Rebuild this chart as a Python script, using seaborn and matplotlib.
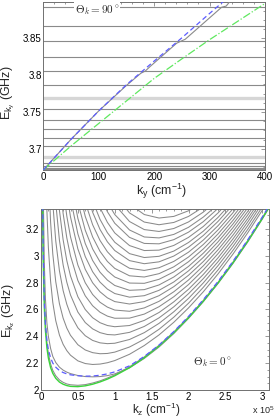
import numpy as np
import pandas as pd
import matplotlib
matplotlib.use("Agg")
import matplotlib.pyplot as plt
import seaborn as sns
from matplotlib.ticker import MultipleLocator, FuncFormatter

nan = float("nan")

# ---------------- top panel (Theta_k = 90 deg) ----------------
KY_FLAT_LEVELS = [3.892, 3.8672, 3.8459, 3.8242, 3.8053, 3.7863, 3.7537, 3.7393,
                  3.7266, 3.7153, 3.7045, 3.6805, 3.6773, 3.6737, 3.6722]
KY_FLAT_LEVELS_LIGHT = [3.7691, 3.6886]

KY_BLUE = [0, 50, 100, 150, 200, 250, 300, 350]
E_KY_BLUE = [3.6715, 3.713, 3.7515, 3.787, 3.819, 3.8505, 3.8835, 3.916]

KY_GREEN = [0, 50, 100, 150, 200, 250, 300, 350, 400]
E_KY_GREEN = [3.6715, 3.704, 3.7345, 3.765, 3.7955, 3.822, 3.848, 3.8725, 3.897]

KY_GRAY = [0, 50, 100, 150, 176, 184, 192.5, 240.6, 249.6, 256, 321.9, 330, 337]
E_KY_GRAY = [3.6715, 3.713, 3.7515, 3.786, 3.8025, 3.8055, 3.8115, 3.8432, 3.8464,
             3.8485, 3.892, 3.8935, 3.9]

# ---------------- bottom panel (Theta_k = 0 deg) ----------------
KZ = [0.01, 0.02, 0.03, 0.045, 0.06, 0.08, 0.1, 0.13, 0.16, 0.2, 0.25, 0.3, 0.35,
      0.4, 0.5, 0.6, 0.7, 0.8, 0.9, 1.0, 1.2, 1.4, 1.6, 1.8, 2.0, 2.2, 2.4, 2.6,
      2.8, 3.0, 3.1]   # in units of 1e5 cm^-1

E_KZ_GREEN = [nan, 3.476, 2.959, 2.615, 2.443, 2.315, 2.238, 2.167, 2.124, 2.087,
              2.059, 2.043, 2.033, 2.027, 2.025, 2.031, 2.043, 2.060, 2.081, 2.106,
              2.166, 2.240, 2.327, 2.426, 2.538, 2.661, 2.797, 2.945, 3.105, 3.277,
              3.368]

E_KZ_BLUE = [nan, 3.55, 3.05, 2.66, 2.49, 2.37, 2.30, 2.24, 2.20, 2.17, 2.145, 2.13,
             2.12, 2.113, 2.106, 2.103, 2.104, 2.11, 2.12, 2.135, 2.18, 2.25, 2.335,
             2.435, 2.548, 2.672, 2.808, 2.956, 3.116, 3.288, 3.38]

E_KZ_GRAY = [
    [nan, 3.63, 3.063, 2.686, 2.497, 2.356, 2.272, 2.194, 2.146, 2.106, 2.075, 2.057,
     2.045, 2.039, 2.035, 2.040, 2.052, 2.068, 2.089, 2.113, 2.173, 2.246, 2.333,
     2.432, 2.543, 2.667, 2.802, 2.950, 3.110, 3.282, 3.373],
    [nan, nan, 3.5, 2.95, 2.68, 2.50, 2.40, 2.31, 2.25, 2.205, 2.17, 2.148, 2.133,
     2.122, 2.108, 2.10, 2.098, 2.10, 2.107, 2.12, 2.165, 2.235, 2.32, 2.42, 2.533,
     2.657, 2.793, 2.94, 3.10, 3.272, 3.364],
    [nan, nan, nan, nan, 3.794, 3.336, 3.062, 2.809, 2.651, 2.516, 2.409, 2.340,
     2.293, 2.259, 2.217, 2.197, 2.190, 2.193, 2.203, 2.219, 2.266, 2.331, 2.410,
     2.504, 2.611, 2.731, 2.864, 3.010, 3.168, 3.338, 3.427],
    [nan, nan, nan, nan, nan, nan, 3.634, 3.251, 3.012, 2.806, 2.642, 2.535, 2.461,
     2.407, 2.337, 2.298, 2.278, 2.270, 2.272, 2.282, 2.320, 2.378, 2.452, 2.542,
     2.646, 2.764, 2.894, 3.038, 3.194, 3.363, nan],
    [nan, nan, nan, nan, nan, nan, nan, nan, 3.390, 3.110, 2.887, 2.740, 2.638,
     2.562, 2.463, 2.404, 2.369, 2.351, 2.345, 2.348, 2.376, 2.427, 2.496, 2.582,
     2.682, 2.797, 2.926, 3.067, 3.222, 3.390, nan],
    [nan, nan, nan, nan, nan, nan, nan, nan, nan, 3.392, 3.114, 2.931, 2.802,
     2.707, 2.580, 2.502, 2.455, 2.427, 2.413, 2.410, 2.429, 2.473, 2.537, 2.619,
     2.717, 2.829, 2.955, 3.095, 3.249, 3.415, nan],
    [nan, nan, nan, nan, nan, nan, nan, nan, nan, 3.669, 3.337, 3.118, 2.963,
     2.849, 2.694, 2.599, 2.538, 2.501, 2.480, 2.471, 2.480, 2.518, 2.577, 2.656,
     2.750, 2.860, 2.984, 3.123, 3.274, 3.439, nan],
    [nan, nan, nan, nan, nan, nan, nan, nan, nan, nan, 3.572, 3.314, 3.132,
     2.998, 2.815, 2.701, 2.627, 2.579, 2.550, 2.534, 2.535, 2.565, 2.620, 2.694,
     2.785, 2.893, 3.015, 3.151, 3.301, 3.465, nan],
    [nan, nan, nan, nan, nan, nan, nan, nan, nan, nan, nan, 3.502, 3.294,
     3.140, 2.930, 2.798, 2.711, 2.653, 2.617, 2.595, 2.586, 2.611, 2.660, 2.731,
     2.819, 2.924, 3.044, 3.179, 3.327, 3.490, nan],
    [nan, nan, nan, nan, nan, nan, nan, nan, nan, nan, nan, nan, 3.462,
     3.288, 3.050, 2.898, 2.798, 2.731, 2.686, 2.658, 2.640, 2.658, 2.702, 2.769,
     2.854, 2.956, 3.074, 3.207, 3.354, nan, nan],
    [nan, nan, nan, nan, nan, nan, nan, nan, nan, nan, nan, nan, nan,
     3.426, 3.162, 2.993, 2.880, 2.803, 2.751, 2.718, 2.691, 2.702, 2.742, 2.804,
     2.887, 2.987, 3.103, 3.234, 3.379, nan, nan],
    [nan, nan, nan, nan, nan, nan, nan, nan, nan, nan, nan, nan, nan,
     3.568, 3.277, 3.090, 2.964, 2.877, 2.818, 2.778, 2.742, 2.747, 2.782, 2.841,
     2.920, 3.018, 3.132, 3.261, 3.405, nan, nan],
    [nan, nan, nan, nan, nan, nan, nan, nan, nan, nan, nan, nan, nan,
     nan, 3.395, 3.189, 3.050, 2.954, 2.887, 2.841, 2.796, 2.794, 2.824, 2.879,
     2.955, 3.050, 3.162, 3.289, 3.432, nan, nan],
    [nan, nan, nan, nan, nan, nan, nan, nan, nan, nan, nan, nan, nan,
     nan, 3.517, 3.292, 3.139, 3.032, 2.957, 2.905, 2.850, 2.841, 2.866, 2.917,
     2.990, 3.083, 3.192, 3.318, 3.459, nan, nan],
    [nan, nan, nan, nan, nan, nan, nan, nan, nan, nan, nan, nan, nan,
     nan, nan, 3.397, 3.230, 3.113, 3.029, 2.971, 2.906, 2.890, 2.910, 2.957,
     3.026, 3.116, 3.223, 3.347, 3.487, nan, nan],
    [nan, nan, nan, nan, nan, nan, nan, nan, nan, nan, nan, nan, nan,
     nan, nan, 3.505, 3.323, 3.195, 3.103, 3.038, 2.963, 2.940, 2.954, 2.997,
     3.063, 3.150, 3.255, 3.377, nan, nan, nan],
    [nan, nan, nan, nan, nan, nan, nan, nan, nan, nan, nan, nan, nan,
     nan, nan, nan, 3.408, 3.270, 3.171, 3.100, 3.015, 2.986, 2.995, 3.034,
     3.098, 3.182, 3.285, 3.405, nan, nan, nan],
    [nan, nan, nan, nan, nan, nan, nan, nan, nan, nan, nan, nan, nan,
     nan, nan, nan, nan, 3.356, 3.248, 3.169, 3.075, 3.038, 3.041, 3.076,
     3.136, 3.217, 3.318, 3.436, nan, nan, nan],
    [nan, nan, nan, nan, nan, nan, nan, nan, nan, nan, nan, nan, nan,
     nan, nan, nan, nan, 3.444, 3.327, 3.241, 3.136, 3.091, 3.088, 3.119,
     3.175, 3.253, 3.352, nan, nan, nan, nan],
    [nan, nan, nan, nan, nan, nan, nan, nan, nan, nan, nan, nan, nan,
     nan, nan, nan, nan, nan, 3.398, 3.306, 3.191, 3.139, 3.132, 3.158,
     3.211, 3.287, 3.382, nan, nan, nan, nan],
    [nan, nan, nan, nan, nan, nan, nan, nan, nan, nan, nan, nan, nan,
     nan, nan, nan, nan, nan, nan, 3.380, 3.254, 3.194, 3.180, 3.202,
     3.251, 3.324, 3.417, nan, nan, nan, nan],
    [nan, nan, nan, nan, nan, nan, nan, nan, nan, nan, nan, nan, nan,
     nan, nan, nan, nan, nan, nan, 3.456, 3.318, 3.250, 3.230, 3.247,
     3.292, 3.362, nan, nan, nan, nan, nan],
    [nan, nan, nan, nan, nan, nan, nan, nan, nan, nan, nan, nan, nan,
     nan, nan, nan, nan, nan, nan, nan, 3.383, 3.306, 3.280, 3.292,
     3.334, 3.400, nan, nan, nan, nan, nan],
]

for row in E_KZ_GRAY + [E_KZ_GREEN, E_KZ_BLUE]:
    assert len(row) == len(KZ), len(row)

# ---------------- styling ----------------
sns.set_style("white")
plt.rcParams["font.family"] = ["Liberation Sans", "DejaVu Sans"]
plt.rcParams["mathtext.fontset"] = "custom"
plt.rcParams["mathtext.rm"] = "Liberation Sans"
plt.rcParams["mathtext.it"] = "Liberation Sans:italic"
plt.rcParams["mathtext.bf"] = "Liberation Sans:bold"

GRAY = "#8a8a8a"
LIGHT = "#d6d6d6"
BLUE = "#5c5cff"
GREEN_TOP = "#5fe85f"
GREEN_BOT = "#3bd43b"
SPINE = "#707070"


def long_df(k, curves):
    rows = []
    for i, e in enumerate(curves):
        for kk, ee in zip(k, e):
            if not np.isnan(ee):
                rows.append((kk, ee, i))
    return pd.DataFrame(rows, columns=["k", "E", "curve"])


def style_axes(ax):
    for s in ax.spines.values():
        s.set_color(SPINE)
        s.set_linewidth(0.7)
        s.set_visible(True)
    ax.tick_params(which="both", direction="in", top=True, right=True,
                   color=SPINE, width=0.5, labelsize=7, pad=1.2,
                   labelcolor="black")
    ax.tick_params(which="major", length=3)
    ax.tick_params(which="minor", length=1.5)
    fmt = FuncFormatter(lambda v, p: f"{v:g}")
    ax.xaxis.set_major_formatter(fmt)
    ax.yaxis.set_major_formatter(fmt)


fig = plt.figure(figsize=(2.74, 4.19), dpi=100)
fig.patch.set_facecolor("white")

# ---- top axes ----
ax1 = fig.add_axes([0.158, 0.5943, 0.809, 0.4017])
for lv in KY_FLAT_LEVELS_LIGHT:
    ax1.axhline(lv, color=LIGHT, lw=2.4, zorder=1)
for lv in KY_FLAT_LEVELS:
    ax1.axhline(lv, color=GRAY, lw=0.8, zorder=2)
sns.lineplot(x=KY_GRAY, y=E_KY_GRAY, ax=ax1, color=GRAY, lw=0.8,
             estimator=None, sort=False, zorder=3)
sns.lineplot(x=KY_GREEN, y=E_KY_GREEN, ax=ax1, color=GREEN_TOP, lw=0.9,
             linestyle="-.", estimator=None, sort=False, zorder=4)
sns.lineplot(x=KY_BLUE, y=E_KY_BLUE, ax=ax1, color=BLUE, lw=0.9,
             linestyle=(0, (4, 2.5)), estimator=None, sort=False, zorder=5)
ax1.set_xlim(0, 400)
ax1.set_ylim(3.6715, 3.8995)
ax1.xaxis.set_major_locator(MultipleLocator(100))
ax1.xaxis.set_minor_locator(MultipleLocator(20))
ax1.yaxis.set_major_locator(MultipleLocator(0.05))
ax1.yaxis.set_minor_locator(MultipleLocator(0.0125))
style_axes(ax1)
ax1.set_xlabel(r"k$_{\mathregular{y}}$ (cm$^{\mathregular{-1}}$)", fontsize=9)
ax1.set_ylabel(r"E$_{\mathregular{k_y}}$ (GHz)", fontsize=9)
ax1.xaxis.set_label_coords(0.534, -0.07)
ax1.yaxis.set_label_coords(-0.118, 0.46)
ax1.text(97, 3.8885, r"$\Theta_k = 90^\circ$", ha="center", va="center",
         fontsize=8, math_fontfamily="cm", zorder=6,
         bbox=dict(facecolor="white", edgecolor="none", pad=0.5))

# ---- bottom axes ----
ax2 = fig.add_axes([0.1496, 0.0692, 0.832, 0.4313])
gdf = long_df(KZ, E_KZ_GRAY)
sns.lineplot(data=gdf, x="k", y="E", units="curve", estimator=None, sort=False,
             color=GRAY, lw=0.75, ax=ax2, legend=False, zorder=2)
green_df = long_df(KZ, [E_KZ_GREEN])
blue_df = long_df(KZ, [E_KZ_BLUE])
sns.lineplot(data=green_df, x="k", y="E", estimator=None, sort=False,
             color=GREEN_BOT, lw=1.0, ax=ax2, zorder=3)
sns.lineplot(data=blue_df, x="k", y="E", estimator=None, sort=False,
             color=BLUE, lw=0.9, linestyle=(0, (4, 2.5)), ax=ax2, zorder=4)
ax2.set_xlim(0, 3.09)
ax2.set_ylim(2.0, 3.345)
ax2.xaxis.set_major_locator(MultipleLocator(0.5))
ax2.xaxis.set_minor_locator(MultipleLocator(0.1))
ax2.yaxis.set_major_locator(MultipleLocator(0.2))
ax2.yaxis.set_minor_locator(MultipleLocator(0.05))
style_axes(ax2)
ax2.set_xlabel(r"k$_{\mathregular{z}}$ (cm$^{\mathregular{-1}}$)", fontsize=8.5)
ax2.set_ylabel(r"E$_{\mathregular{k_z}}$ (GHz)", fontsize=9)
ax2.xaxis.set_label_coords(0.507, -0.057)
ax2.yaxis.set_label_coords(-0.105, 0.437)
ax2.text(2.325, 2.211, r"$\Theta_k = 0^\circ$", ha="center", va="center",
         fontsize=8, math_fontfamily="cm")

fig.text(0.918, 0.012, r"x 10$^{\mathregular{5}}$", fontsize=6.5, ha="left",
         va="baseline")

fig.savefig("out.png", dpi=100, facecolor="white")
